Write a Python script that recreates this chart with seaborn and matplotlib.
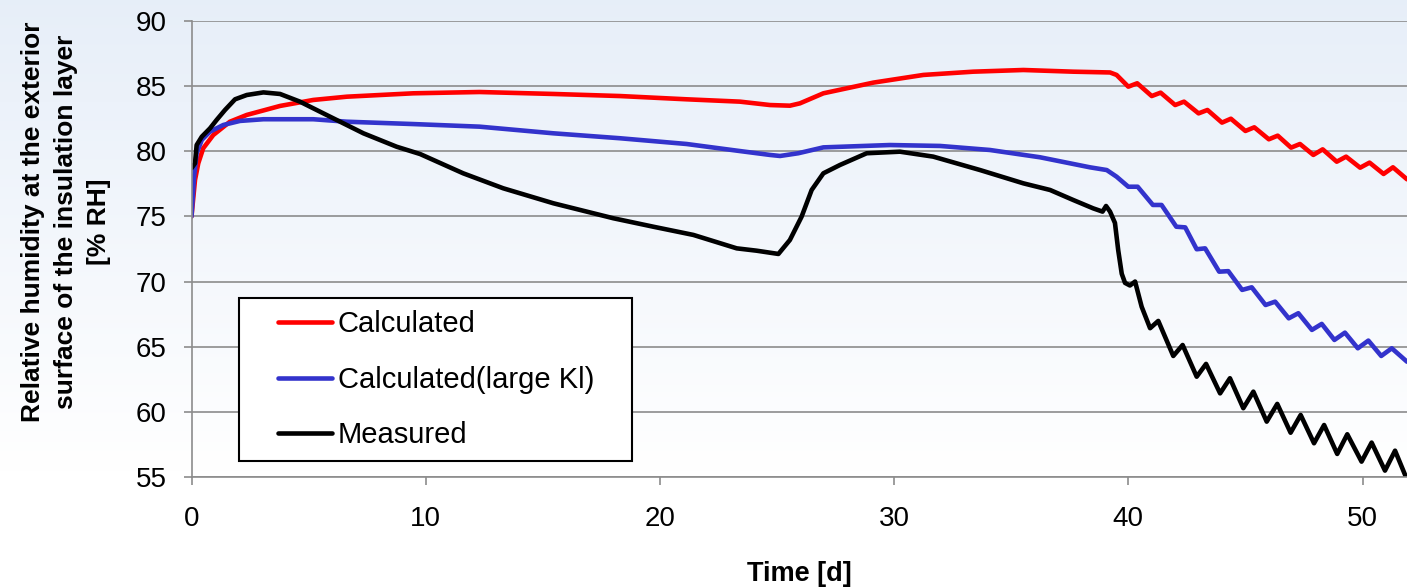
import numpy as np
import pandas as pd
import matplotlib
matplotlib.use("Agg")
import matplotlib.pyplot as plt
from matplotlib.patches import Rectangle
import seaborn as sns

# ---------------- data ----------------
calc_x = [0.0, 0.15, 0.29, 0.5, 0.93, 1.64, 2.36, 3.78, 5.2, 6.63, 9.47, 12.3, 15.45,
          18.3, 21.14, 23.42, 24.7, 25.55, 25.98, 26.98, 29.11, 31.25, 33.38, 35.52,
          37.65, 39.22, 39.5, 40.0, 40.38, 41.0, 41.38, 42.0, 42.38, 43.0, 43.38, 44.0,
          44.38, 45.0, 45.38, 46.0, 46.38, 46.95, 47.33, 47.9, 48.3, 48.9, 49.3, 49.9,
          50.3, 50.9, 51.3, 51.9]
calc_y = [75.0, 77.8, 79.08, 80.23, 81.25, 82.27, 82.79, 83.48, 83.94, 84.19, 84.45,
          84.55, 84.4, 84.24, 83.99, 83.81, 83.55, 83.5, 83.68, 84.45, 85.27, 85.86,
          86.11, 86.24, 86.11, 86.05, 85.86, 84.96, 85.22, 84.24, 84.5, 83.55, 83.81,
          82.91, 83.17, 82.2, 82.5, 81.56, 81.84, 80.92, 81.2, 80.28, 80.56, 79.72,
          80.15, 79.2, 79.59, 78.74, 79.13, 78.26, 78.77, 77.85]

large_x = [0.0, 0.11, 0.22, 0.44, 0.79, 1.36, 2.07, 3.07, 5.2, 6.63, 9.47, 12.3, 15.45,
           18.3, 21.14, 23.28, 24.7, 25.13, 25.91, 26.98, 29.82, 31.96, 34.09, 36.23,
           38.36, 39.08, 39.5, 40.0, 40.4, 41.05, 41.42, 42.05, 42.43, 42.92, 43.28,
           43.88, 44.27, 44.86, 45.27, 45.86, 46.27, 46.85, 47.26, 47.84, 48.26, 48.8,
           49.25, 49.8, 50.25, 50.8, 51.25, 51.9]
large_y = [75.0, 78.05, 79.85, 80.87, 81.51, 82.02, 82.33, 82.46, 82.46, 82.27, 82.09,
           81.89, 81.38, 81.0, 80.56, 80.05, 79.72, 79.64, 79.85, 80.3, 80.48, 80.41,
           80.1, 79.54, 78.77, 78.56, 78.05, 77.28, 77.28, 75.88, 75.88, 74.21, 74.16,
           72.48, 72.55, 70.76, 70.8, 69.36, 69.56, 68.2, 68.46, 67.18, 67.57, 66.29,
           66.75, 65.52, 66.08, 64.88, 65.47, 64.29, 64.88, 63.85]

meas_x = [0.0, 0.15, 0.22, 0.44, 0.79, 1.07, 1.43, 1.86, 2.36, 3.07, 3.78, 4.63, 5.91,
          7.34, 8.76, 9.76, 11.6, 13.31, 15.45, 18.01, 19.72, 21.43, 23.28, 24.13,
          25.06, 25.55, 26.05, 26.48, 26.98, 27.69, 28.83, 30.25, 31.67, 33.67, 35.52,
          36.66, 37.65, 38.5, 38.9, 39.05, 39.22, 39.43, 39.57, 39.72, 39.86, 40.07,
          40.29, 40.57, 40.93, 41.28, 41.92, 42.32, 42.92, 43.32, 43.92, 44.34, 44.91,
          45.34, 45.91, 46.36, 46.93, 47.36, 47.93, 48.36, 48.92, 49.35, 49.96, 50.39,
          50.96, 51.39, 51.86]
meas_y = [78.7, 79.08, 80.48, 81.12, 81.76, 82.4, 83.17, 83.99, 84.32, 84.52, 84.4,
          83.81, 82.66, 81.38, 80.35, 79.79, 78.31, 77.16, 76.01, 74.86, 74.21, 73.58,
          72.55, 72.37, 72.12, 73.19, 74.98, 77.03, 78.31, 78.95, 79.85, 79.97, 79.59,
          78.56, 77.54, 77.03, 76.26, 75.62, 75.37, 75.8, 75.37, 74.5, 72.4, 70.6, 69.9,
          69.7, 70.0, 68.07, 66.42, 66.98, 64.29, 65.13, 62.7, 63.68, 61.42, 62.58,
          60.28, 61.55, 59.25, 60.61, 58.4, 59.76, 57.59, 58.99, 56.77, 58.28, 56.18,
          57.64, 55.49, 57.02, 54.98]

series_names = ["Calculated", "Calculated(large Kl)", "Measured"]
x_ticks = [0, 10, 20, 30, 40, 50]
y_ticks = [55, 60, 65, 70, 75, 80, 85, 90]
x_label = "Time [d]"
y_label = "Relative humidity at the exterior\nsurface of the insulation layer\n[% RH]"

# ---------------- styling ----------------
sns.set_theme(style="white")
plt.rcParams["font.family"] = ["Liberation Sans", "DejaVu Sans"]
plt.rcParams["text.color"] = "black"
plt.rcParams["axes.labelcolor"] = "black"
plt.rcParams["xtick.labelcolor"] = "black"
plt.rcParams["ytick.labelcolor"] = "black"
plt.rcParams["legend.labelcolor"] = "black"

W, H = 1407, 588
fig = plt.figure(figsize=(W / 100, H / 100), dpi=100)

# slide-like background gradient
bg = fig.add_axes([0, 0, 1, 1], zorder=-10)
t = np.linspace(0, 1, 400)[:, None]          # 0 = top
fade = np.clip(t / 0.8, 0, 1)
top = np.array([0.905, 0.935, 0.975])
col = top[None, None, :] * (1 - fade[..., None]) + np.ones(3)[None, None, :] * fade[..., None]
col = np.repeat(col, 2, axis=1)
bg.imshow(col, aspect="auto", extent=[0, 1, 0, 1], origin="upper")
bg.axis("off")

ax = fig.add_axes([191.5 / W, 1 - 477 / H, 1 - 191.5 / W, (477 - 21) / H])
ax.set_facecolor("none")

colors = ["#ff0000", "#3333cc", "#000000"]
for xs, ys, name, c in zip([calc_x, large_x, meas_x], [calc_y, large_y, meas_y],
                           series_names, colors):
    df = pd.DataFrame({"x": xs, "y": ys})
    sns.lineplot(data=df, x="x", y="y", ax=ax, color=c, linewidth=3.3,
                 estimator=None, sort=False, label=name,
                 solid_joinstyle="round", solid_capstyle="round")

ax.set_xlim(0, (W - 191.5) / 23.42)
ax.set_ylim(55, 90)
ax.set_xticks(x_ticks)
ax.set_yticks(y_ticks)
ax.set_axisbelow(True)
ax.yaxis.grid(True, color="#8c8c8c", linewidth=1.2)
ax.xaxis.grid(False)
for s in ["top", "right"]:
    ax.spines[s].set_visible(False)
for s in ["left", "bottom"]:
    ax.spines[s].set_color("#8c8c8c")
    ax.spines[s].set_linewidth(1.2)
ax.tick_params(axis="both", direction="out", length=6, width=1.2, color="#8c8c8c",
               labelsize=20, labelcolor="black")
ax.tick_params(axis="x", pad=15, bottom=True)
ax.tick_params(axis="y", pad=12, left=True)

ax.set_xlabel("")
ax.set_ylabel("")
fig.text(799 / W, 1 - 581 / H, x_label, ha="center", va="baseline",
         fontsize=19.5, fontweight="bold", color="black")
fig.text(66 / W, 1 - 222 / H, y_label, rotation=90, ha="center", va="center",
         multialignment="center", fontsize=19, fontweight="bold", linespacing=1.45,
         color="black")

# legend box
ax.add_patch(Rectangle((239 / W, 1 - 461 / H), (632 - 239) / W, (461 - 298) / H,
                       transform=fig.transFigure, facecolor="white", edgecolor="black",
                       linewidth=1.5, zorder=3, clip_on=False))
handles, labels = ax.get_legend_handles_labels()
leg = ax.legend(handles, labels, loc="upper left",
                bbox_to_anchor=(278 / W, 1 - 310 / H), bbox_transform=fig.transFigure,
                frameon=False, fontsize=21, handlelength=1.85, handletextpad=0.2,
                labelspacing=0.95, borderpad=0, borderaxespad=0)
leg.set_zorder(5)

fig.savefig("out.png", dpi=100)
